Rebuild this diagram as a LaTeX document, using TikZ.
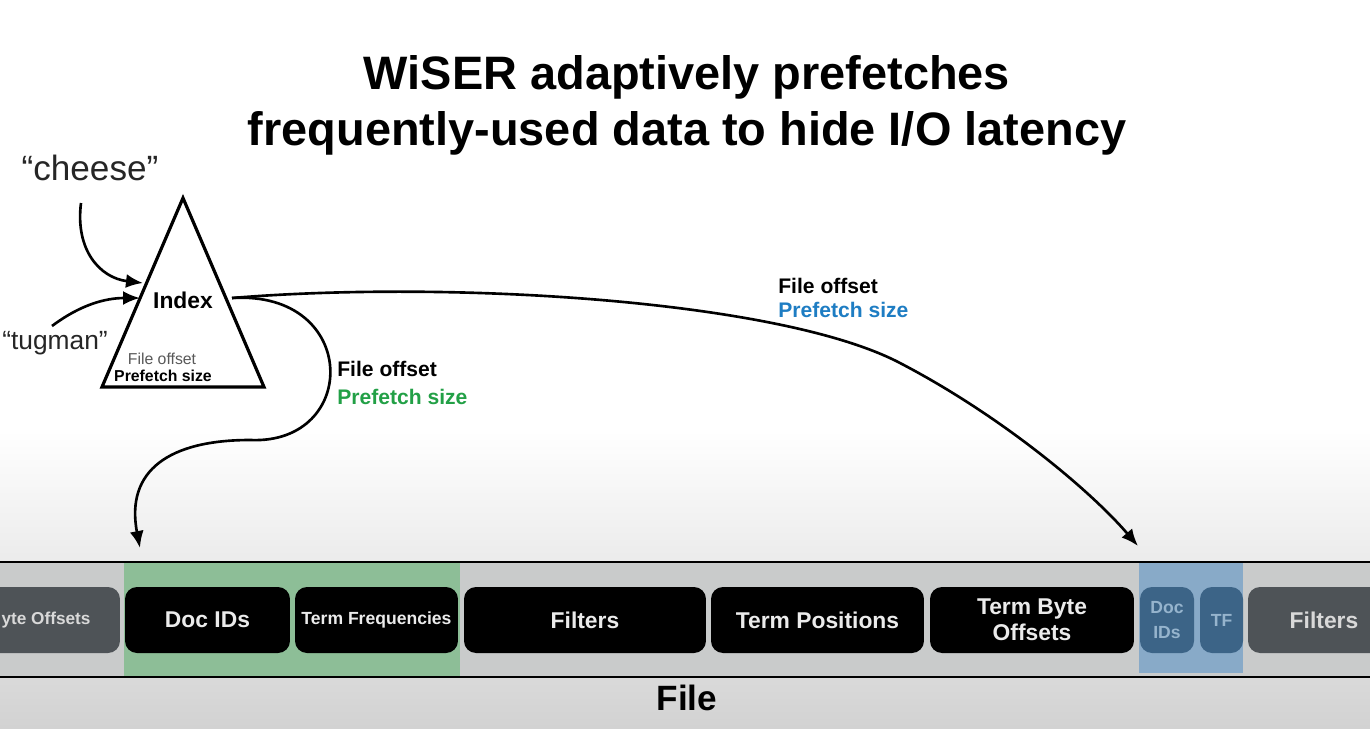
\documentclass[tikz,border=0pt]{standalone}
\usepackage{fontspec}
\setmainfont{Liberation Sans}
\usetikzlibrary{arrows.meta}

\definecolor{bgbot}{RGB}{210,210,210}
\definecolor{barfill}{RGB}{201,203,203}
\definecolor{bandgreen}{RGB}{141,190,151}
\definecolor{bandblue}{RGB}{136,170,200}
\definecolor{boxgray}{RGB}{78,83,87}
\definecolor{boxblue}{RGB}{60,100,135}
\definecolor{txtblue}{RGB}{150,180,205}
\definecolor{offgreen}{RGB}{34,160,70}
\definecolor{offblue}{RGB}{30,125,195}

\begin{document}
\begin{tikzpicture}[x=0.02cm,y=-0.02cm,
  flow/.style={line width=1.5pt,-{Latex[length=3.4mm,width=2.8mm]}},
  segbox/.style={rounded corners=0.24cm,minimum height=1.32cm,inner sep=0pt,
    align=center,font=\bfseries\fontsize{13}{15}\selectfont},
  blkbox/.style={segbox,fill=black,text=white!92!black},
  graybox/.style={segbox,fill=boxgray,text=white!85!black},
  bluebox/.style={segbox,fill=boxblue,text=txtblue,font=\bfseries\fontsize{10}{14}\selectfont},
  offlbl/.style={anchor=west,align=left,inner sep=0pt,font=\bfseries\fontsize{12}{14}\selectfont}]

% background
\fill[white] (0,0) rectangle (1370,728);
\shade[top color=white,bottom color=bgbot] (0,430) rectangle (1370,728);
\useasboundingbox (0,0) rectangle (1370,728);
\clip (0,0) rectangle (1370,728);

\node[align=center,font=\bfseries\fontsize{26.7}{32}\selectfont] (title) at (687,105)
  {WiSER adaptively prefetches\\frequently-used data to hide I/O latency};

% query terms and index
\node[font=\fontsize{20}{24}\selectfont,text=black!85] (cheese) at (90,168) {“cheese”};
\node[font=\fontsize{15}{18}\selectfont,text=black!85] (tugman) at (55,343) {“tugman”};

\draw[line width=1.8pt] (183,198) -- (264,387) -- (102,387) -- cycle;
\node[font=\bfseries\fontsize{13}{15}\selectfont] (idx) at (183,300) {Index};
\node[font=\fontsize{9}{10}\selectfont,text=black!65] (idxoff) at (162,359) {File offset};
\node[font=\bfseries\fontsize{9}{10}\selectfont] (idxsize) at (163,376) {Prefetch size};

\coordinate (cheeseout) at (81,203);
\coordinate (tugout) at (52,326);
\coordinate (idxin1) at (143,283);
\coordinate (idxin2) at (140,298);
\coordinate (idxout) at (232,298);
\coordinate (loopmid) at (250,440);
\coordinate (bendmid) at (900,363);
\coordinate (greentip) at (140,548);
\coordinate (bluetip) at (1138,546);

\draw[flow] (cheeseout) .. controls (75,250) and (100,278) .. (idxin1);
\draw[flow] (tugout) .. controls (80,305) and (105,298) .. (idxin2);

\draw[flow] (idxout) .. controls (450,280) and (780,300) .. (bendmid)
  .. controls (1000,415) and (1090,490) .. (bluetip);
\draw[flow] (idxout) .. controls (360,290) and (360,445) .. (loopmid)
  .. controls (170,440) and (125,470) .. (greentip);

\node[offlbl,font=\bfseries\fontsize{12}{16}\selectfont] (lblgreen) at (337,383) {File offset\\\textcolor{offgreen}{Prefetch size}};
\node[offlbl] (lblblue) at (778,298) {File offset\\\textcolor{offblue}{Prefetch size}};

% the file
\fill[barfill] (0,562) rectangle (1370,677);
\fill[bandgreen] (124,563) rectangle (460,676);
\fill[bandblue] (1139,562) rectangle (1243,673);
\draw[line width=1.1pt] (0,562) -- (1370,562);
\draw[line width=1.1pt] (0,677) -- (1370,677);

\node[graybox,minimum width=2.96cm,font=\bfseries\fontsize{9.8}{12}\selectfont] (byteoffL) at (46,620) {yte Offsets};
\node[blkbox,minimum width=3.3cm] (docids) at (207.5,620) {Doc IDs};
\node[blkbox,minimum width=3.26cm,font=\bfseries\fontsize{10}{12}\selectfont] (termfreq) at (376.5,620) {Term Frequencies};
\node[blkbox,minimum width=4.84cm] (filtersA) at (585,620) {Filters};
\node[blkbox,minimum width=4.26cm] (termpos) at (817.5,620) {Term Positions};
\node[blkbox,minimum width=4.08cm] (termbyte) at (1032,620) {Term Byte\\Offsets};
\node[bluebox,minimum width=1.08cm] (docidsB) at (1167,620) {Doc\\IDs};
\node[bluebox,minimum width=0.86cm] (tfB) at (1221.5,620) {TF};
\node[graybox,minimum width=3.04cm] (filtersB) at (1324,620) {Filters};

\node[font=\bfseries\fontsize{20}{24}\selectfont] (file) at (687,698) {File};
\end{tikzpicture}
\end{document}
